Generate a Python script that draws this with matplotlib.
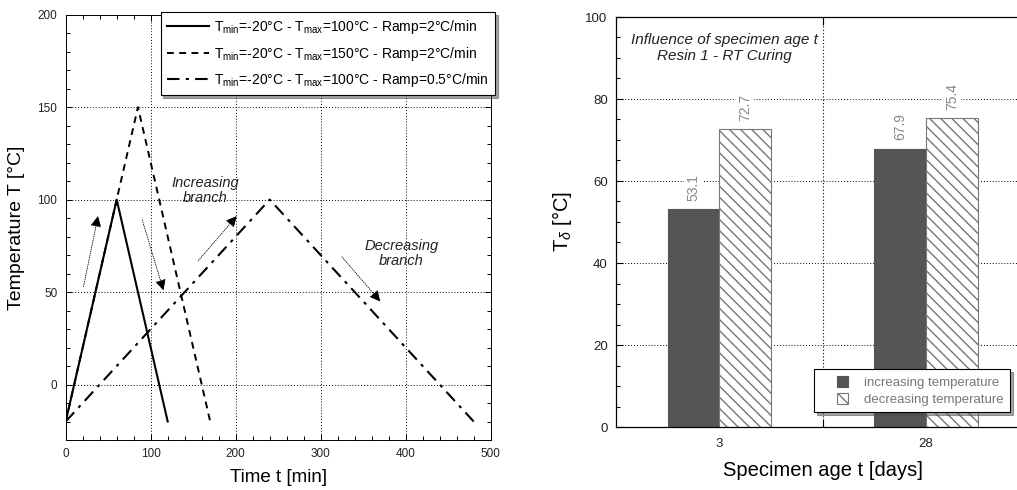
import matplotlib
matplotlib.use("Agg")
import matplotlib.pyplot as plt
from matplotlib.ticker import MultipleLocator, FixedLocator
from matplotlib.legend_handler import HandlerPatch
from matplotlib.patches import Rectangle

plt.rcParams['font.family'] = ['Liberation Sans', 'DejaVu Sans']
plt.rcParams['mathtext.fontset'] = 'custom'
plt.rcParams['mathtext.rm'] = 'Liberation Sans'
plt.rcParams['mathtext.it'] = 'Liberation Sans:italic'

# ---------------- data: left chart ----------------
time_a = [0, 60, 120]
temp_a = [-20, 100, -20]
time_b = [0, 85, 170]
temp_b = [-20, 150, -20]
time_c = [0, 240, 480]
temp_c = [-20, 100, -20]
labels_left = [
    r'T$_{\rm min}$=-20°C - T$_{\rm max}$=100°C - Ramp=2°C/min',
    r'T$_{\rm min}$=-20°C - T$_{\rm max}$=150°C - Ramp=2°C/min',
    r'T$_{\rm min}$=-20°C - T$_{\rm max}$=100°C - Ramp=0.5°C/min',
]
# annotation arrows (start -> end) in data coords
arrow_starts = [(21, 53), (90, 89), (156, 67), (325, 69)]
arrow_ends = [(38, 91), (115, 51), (201, 91), (370, 45)]
notes = ['Increasing\nbranch', 'Decreasing\nbranch']
note_pos = [(164, 105), (395, 71)]

# ---------------- data: right chart ----------------
ages = ['3', '28']
tinc = [53.1, 67.9]
tdec = [72.7, 75.4]
series_names = ['increasing temperature', 'decreasing temperature']

W, H = 1017, 490
fig = plt.figure(figsize=(W / 100, H / 100), dpi=100)

def px(l, t, r, b):
    return [l / W, 1 - b / H, (r - l) / W, (b - t) / H]

dot = (0, (1, 2))

# ================= left chart =================
ax = fig.add_axes(px(65.7, 14.7, 490.7, 440))
ax.plot(time_a, temp_a, color='k', lw=1.5, ls='-', label=labels_left[0])
ax.plot(time_b, temp_b, color='k', lw=1.4, ls=(0, (3.5, 2.8)), label=labels_left[1])
ax.plot(time_c, temp_c, color='k', lw=1.5, ls=(0, (6, 3, 1.5, 3)), label=labels_left[2])
ax.set_xlim(0, 500)
ax.set_ylim(-30, 200)
ax.xaxis.set_major_locator(MultipleLocator(100))
ax.xaxis.set_minor_locator(MultipleLocator(20))
ax.yaxis.set_major_locator(FixedLocator([0, 50, 100, 150, 200]))
ax.yaxis.set_minor_locator(MultipleLocator(10))
ax.tick_params(which='both', direction='in', top=True, right=True, labelsize=8.5,
               labelcolor='#222', width=0.7)
ax.tick_params(which='major', length=4, pad=6)
ax.tick_params(which='minor', length=3)
ax.grid(True, which='major', ls=dot, color='k', lw=0.7)
for s in ax.spines.values():
    s.set_linewidth(0.7)
ax.set_xlabel('Time t [min]', fontsize=13.5, labelpad=6)
ax.set_ylabel('Temperature T [°C]', fontsize=14, labelpad=9)

for (x0, y0), (x1, y1) in zip(arrow_starts, arrow_ends):
    ax.annotate('', xy=(x1, y1), xytext=(x0, y0),
                arrowprops=dict(arrowstyle='-|>', color='k', lw=0.6, ls=':',
                                mutation_scale=16, shrinkA=0, shrinkB=0))
    ax.annotate('', xy=(x1, y1), xytext=(x0 + (x1 - x0) * 0.8, y0 + (y1 - y0) * 0.8),
                arrowprops=dict(arrowstyle='-|>', color='k', lw=0.0,
                                mutation_scale=16, shrinkA=0, shrinkB=0))
for t, (x, y) in zip(notes, note_pos):
    ax.text(x, y, t, ha='center', va='center', style='italic', fontsize=10.5,
            color='#222', linespacing=1.1)

leg = ax.legend(loc='upper right', bbox_to_anchor=(495 / W, 1 - 12 / H),
                bbox_transform=fig.transFigure, borderaxespad=0, fontsize=10,
                frameon=True, fancybox=False, shadow=True, handlelength=3.0,
                labelspacing=0.6, borderpad=0.45, handletextpad=0.4)
leg.get_frame().set_edgecolor('k')
leg.get_frame().set_linewidth(0.8)

# ================= right chart =================
ax2 = fig.add_axes(px(616, 17, 1029.3, 427))
xpos = list(range(len(ages)))
bw = 0.25
b1 = ax2.bar([x - bw / 2 for x in xpos], tinc, width=bw, color='#555555',
             edgecolor='#555555', lw=0.8, label=series_names[0])
b2 = ax2.bar([x + bw / 2 for x in xpos], tdec, width=bw, color='white',
             edgecolor='#777777', hatch='\\\\\\', lw=0.8, label=series_names[1])
for bars, vals in ((b1, tinc), (b2, tdec)):
    for r, v in zip(bars, vals):
        ax2.annotate(f'{v:.1f}', (r.get_x() + r.get_width() / 2, v),
                     xytext=(0, 6), textcoords='offset points', rotation=90,
                     ha='center', va='bottom', fontsize=10, color='#888888',
                     bbox=dict(facecolor='white', edgecolor='none', pad=1.5))
ax2.set_xlim(-0.5, 1.5)
ax2.set_ylim(0, 100)
ax2.set_xticks(xpos)
ax2.set_xticklabels(ages)
ax2.xaxis.set_minor_locator(FixedLocator([0.5]))
ax2.yaxis.set_major_locator(MultipleLocator(20))
ax2.yaxis.set_minor_locator(MultipleLocator(5))
ax2.tick_params(which='both', direction='in', labelsize=9.5, labelcolor='#222', width=0.8)
ax2.tick_params(axis='x', which='major', length=0, pad=8)
ax2.tick_params(axis='x', which='minor', length=6, top=True)
ax2.tick_params(axis='y', which='major', length=5, pad=6)
ax2.tick_params(axis='y', which='minor', length=3)
ax2.grid(True, axis='y', which='major', ls=dot, color='k', lw=0.7)
ax2.grid(True, axis='x', which='minor', ls=dot, color='k', lw=0.8)
ax2.set_axisbelow(True)
for s in ax2.spines.values():
    s.set_linewidth(0.9)
ax2.set_xlabel('Specimen age t [days]', fontsize=14.5, labelpad=8)
ax2.set_ylabel(r'T$_\delta$ [°C]', fontsize=14.5, labelpad=8)
ax2.text(0.025, 96, 'Influence of specimen age t\nResin 1 - RT Curing', ha='center',
         va='top', style='italic', fontsize=11, color='#222', linespacing=1.1,
         bbox=dict(facecolor='white', edgecolor='none', pad=1))


def square_at_right(legend, orig_handle, xdescent, ydescent, width, height, fontsize):
    side = height * 0.95
    return Rectangle((-xdescent + width - side, -ydescent + (height - side) / 2), side, side)


leg2 = ax2.legend(handles=[b1.patches[0], b2.patches[0]], labels=series_names,
                  loc='lower right', bbox_to_anchor=(1010 / W, 1 - 412 / H),
                  bbox_transform=fig.transFigure, borderaxespad=0, fontsize=9.5,
                  frameon=True, fancybox=False, shadow=True, handlelength=2.1,
                  handleheight=1.0, labelspacing=0.3, borderpad=0.45,
                  handletextpad=1.25, labelcolor='#777777',
                  handler_map={Rectangle: HandlerPatch(patch_func=square_at_right)})
leg2.get_frame().set_edgecolor('k')
leg2.get_frame().set_linewidth(0.8)

fig.savefig('out.png', dpi=100)
